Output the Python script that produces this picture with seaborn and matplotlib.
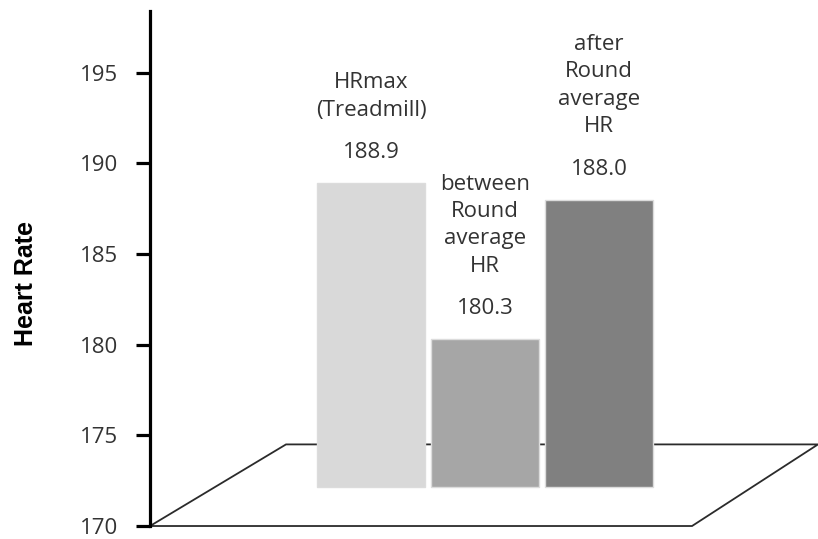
import numpy as np
import pandas as pd
import matplotlib
matplotlib.use("Agg")
import matplotlib.pyplot as plt
import seaborn as sns

# Heart-rate summary values
categories = ["HRmax\n(Treadmill)", "between\nRound\naverage\nHR", "after\nRound\naverage\nHR"]
values = [188.9, 180.3, 188.0]
bar_colors = ["#d9d9d9", "#a6a6a6", "#808080"]
y_ticks = [170, 175, 180, 185, 190, 195]

BASE = 172.15          # bars stand on the pseudo-3D floor
FLOOR_TOP = 174.5      # back edge of the floor
Y_MIN, Y_MAX = 170, 198.4

sns.set_theme(style="white")
plt.rcParams["font.family"] = ["Open Sans", "DejaVu Sans"]

fig = plt.figure(figsize=(8.18, 5.39), dpi=100)
ax = fig.add_axes([0.1834, 0.0241, 0.8166, 0.9555])

df = pd.DataFrame({"cat": categories, "value": values})
df["height"] = df["value"] - BASE

sns.barplot(data=df, x="cat", y="height", hue="cat", palette=bar_colors,
            legend=False, saturation=1, width=0.94, bottom=BASE,
            edgecolor="#dcdcdc", linewidth=1.0, ax=ax, zorder=3)

ax.set_xlim(-1.939, 3.921)
ax.set_ylim(Y_MIN, Y_MAX)

# floor parallelogram behind the bars
floor_x = [-1.939, 2.816, 3.921, -0.746, -1.939]
floor_y = [Y_MIN, Y_MIN, FLOOR_TOP, FLOOR_TOP, Y_MIN]
ax.plot(floor_x, floor_y, color="#2b2b2b", lw=1.3, zorder=1, clip_on=False,
        solid_joinstyle="miter")

# value and category labels above each bar
for i, (name, v) in enumerate(zip(categories, values)):
    ax.annotate(f"{v:.1f}", xy=(i, v), xytext=(0, 22), textcoords="offset points",
                ha="center", va="center", fontsize=16, color="#333333")
    ax.annotate(name, xy=(i, v), xytext=(0, 45), textcoords="offset points",
                ha="center", va="bottom", fontsize=16, color="#333333",
                linespacing=1.4, multialignment="center")

ax.set_yticks(y_ticks)
ax.set_yticklabels([str(t) for t in y_ticks])
ax.set_xticks([])
ax.set_xlabel("")
ax.set_ylabel("Heart Rate", fontsize=18, fontweight="bold",
              family=["Liberation Sans", "DejaVu Sans"], color="black")
ax.yaxis.set_label_coords(-0.1677, 0.471)

for s in ["top", "right", "bottom"]:
    ax.spines[s].set_visible(False)
ax.spines["left"].set_color("black")
ax.spines["left"].set_linewidth(2.3)
ax.tick_params(axis="y", direction="out", length=10, width=2.3, color="black",
               labelsize=16, labelcolor="#333333", pad=13, left=True)

fig.savefig("out.png", dpi=100)
